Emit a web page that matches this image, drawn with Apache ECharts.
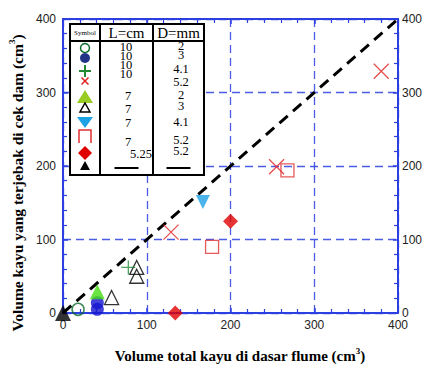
<!DOCTYPE html>
<html><head><meta charset="utf-8">
<script src="https://cdn.jsdelivr.net/npm/echarts@6/dist/echarts.min.js"></script>
<style>html,body{margin:0;padding:0;background:#fff}#c{width:427px;height:365px}</style>
</head><body><div id="c"></div>
<script>
// ---- data ----
const axisMin = 0, axisMax = 400, axisStep = 100;
const diagonal = [[0, 0], [400, 400]];
const openCircle = [[18, 5]];
const filledCircle = [[41, 5], [41, 14]];
const plusPts = [[78, 62]];
const crossPts = [[129, 110], [255, 199], [380, 329]];
const greenTri = [[41, 29]];
const openTri = [[58, 21], [88, 62], [88, 50]];
const cyanDown = [[167, 151]];
const openSquare = [[178, 90], [268, 194]];
const diamondPts = [[134, 0], [200, 125]];
const blackTri = [[0, 0]];
// legend table columns (L=cm, D=mm)
const legendL = ['10', '10', '10', '10', '7', '7', '7', '7', '5.25'];
const legendD = ['2', '3', '4.1', '5.2', '2', '3', '4.1', '5.2', '5.2'];
const xTitle = 'Volume total kayu di dasar flume (cm';
const yTitle = 'Volume kayu yang terjebak di cek dam (cm';

// ---- chart ----
const chart = echarts.init(document.getElementById('c'), null, {renderer: 'svg'});
const blue = '#2c3fe0';
const serif = '"Liberation Serif","Times New Roman",serif';
function axisCommon(showLabel, split) {
  return {
    min: axisMin, max: axisMax, interval: axisStep,
    axisLine: {show: true, onZero: false, lineStyle: {color: blue, width: 2}},
    axisTick: {show: true, inside: true, length: 5, lineStyle: {color: blue, width: 1.5}},
    minorTick: {show: true, splitNumber: 5, length: 4, lineStyle: {color: blue, width: 1.2}},
    axisLabel: {show: showLabel, color: '#222', fontSize: 12, fontFamily: '"Liberation Sans",Arial,sans-serif'},
    splitLine: {show: split, lineStyle: {color: blue, width: 1.3, type: [8, 5], opacity: 0.85}},
    minorSplitLine: {show: false}
  };
}
const xBottom = axisCommon(true, true);
xBottom.position = 'bottom';
xBottom.axisLabel.margin = 6;
const xTop = Object.assign(axisCommon(false, false), {position: 'top'});
const yLeft = axisCommon(true, true);
yLeft.position = 'left';
yLeft.axisLabel.margin = 7;
const yRight = Object.assign(axisCommon(true, false), {position: 'right'});
yRight.axisLabel.margin = 4;

const plusPath = 'path://M5,0L5,10M0,5L10,5';
const crossPath = 'path://M0,0L10,10M10,0L0,10';
function sc(data, symbol, size, style, extra) {
  return Object.assign({type: 'scatter', data: data, symbol: symbol, symbolSize: size,
    itemStyle: style, clip: false, z: 5, xAxisIndex: 0, yAxisIndex: 0}, extra || {});
}
const series = [
  {type: 'line', data: diagonal, showSymbol: false, symbol: 'none', z: 3,
   lineStyle: {color: '#000', width: 3, type: [11, 7]}},
  sc(openCircle, 'circle', 12, {color: 'rgba(0,0,0,0)', borderColor: '#0b6b2a', borderWidth: 1.5}),
  sc(filledCircle, 'circle', 13, {color: '#1414d0'}),
  sc(openTri, 'triangle', 14, {color: 'rgba(0,0,0,0)', borderColor: '#000', borderWidth: 1.3}),
  sc(greenTri, 'triangle', 15, {color: '#44dd11'}),
  sc(plusPts, plusPath, 14, {color: 'none', borderColor: '#228833', borderWidth: 1.3}),
  sc(crossPts, crossPath, 15, {color: 'none', borderColor: '#e02020', borderWidth: 1.3}),
  sc(cyanDown, 'triangle', 14, {color: '#1ea2e6'}, {symbolRotate: 180}),
  sc(openSquare, 'rect', 13, {color: 'rgba(0,0,0,0)', borderColor: '#e03030', borderWidth: 1.3}),
  sc(diamondPts, 'diamond', 15, {color: '#e00000'}),
  sc(blackTri, 'triangle', 16, {color: '#000'})
];

// ---- titles + legend table (graphic) ----
const g = [];
const titleRich = function (size) {
  return {
    n: {fontSize: size, fontWeight: 'bold', fontFamily: serif, fill: '#000'},
    sup: {fontSize: 9, fontWeight: 'bold', fontFamily: serif, fill: '#000', padding: [0, 0, 10, 0]}
  };
};
g.push({type: 'text', x: 240, y: 356, z: 50, style: {text: '{n|' + xTitle + '}{sup|3}{n|)}', rich: titleRich(15), align: 'center', verticalAlign: 'middle'}});
g.push({type: 'text', x: 17, y: 183, rotation: Math.PI / 2, z: 50, style: {text: '{n|' + yTitle + '}{sup|3}{n|)}', rich: titleRich(15.5), align: 'center', verticalAlign: 'middle'}});

const tX = 70, tY = 24, tW = 134, tH = 151, hdrY = 41, c1 = 100, c2 = 153;
const posL = [[126, 47], [126, 56], [126, 65], [126, 74], [128, 96], [128, 109], [128, 123], [128, 142], [141, 154]];
const posD = [[181, 46], [181, 55], [181, 69], [181, 82], [181, 95], [181, 106], [181, 122], [181, 140], [181, 151]];
const rowS = [48, 58, 71, 81, 97, 108, 122, 136, 153, 166];
g.push({type: 'rect', shape: {x: tX, y: tY, width: tW, height: tH}, style: {fill: '#fff', stroke: '#000', lineWidth: 2}, z: 100});
g.push({type: 'line', shape: {x1: tX, y1: hdrY, x2: tX + tW, y2: hdrY}, style: {stroke: '#000', lineWidth: 2}, z: 101});
g.push({type: 'line', shape: {x1: c1, y1: tY, x2: c1, y2: tY + tH}, style: {stroke: '#000', lineWidth: 2}, z: 101});
g.push({type: 'line', shape: {x1: c2, y1: tY, x2: c2, y2: tY + tH}, style: {stroke: '#000', lineWidth: 2}, z: 101});
function txt(s, x, y, size) {
  return {type: 'text', x: x, y: y, z: 102, style: {text: s, font: size + 'px ' + serif, fill: '#000', align: 'center', verticalAlign: 'middle'}};
}
g.push(txt('Symbol', (tX + c1) / 2, 33, 7));
g.push(txt('L=cm', (c1 + c2) / 2, 33, 15));
g.push(txt('D=mm', (c2 + tX + tW) / 2, 33, 15));
legendL.forEach((s, i) => g.push(txt(s, posL[i][0], posL[i][1], 12.5)));
legendD.forEach((s, i) => g.push(txt(s, posD[i][0], posD[i][1], 12.5)));
const sx = 85;
g.push({type: 'circle', shape: {cx: sx, cy: rowS[0], r: 4.5}, style: {fill: 'none', stroke: '#0b6b2a', lineWidth: 1.5}, z: 102});
g.push({type: 'circle', shape: {cx: sx, cy: rowS[1], r: 5}, style: {fill: '#223388'}, z: 102});
g.push({type: 'polyline', shape: {points: [[sx, rowS[2] - 6], [sx, rowS[2] + 6]]}, style: {stroke: '#228833', lineWidth: 2}, z: 102});
g.push({type: 'polyline', shape: {points: [[sx - 6, rowS[2]], [sx + 6, rowS[2]]]}, style: {stroke: '#228833', lineWidth: 2}, z: 102});
g.push({type: 'polyline', shape: {points: [[sx - 3.5, rowS[3] - 3.5], [sx + 3.5, rowS[3] + 3.5]]}, style: {stroke: '#e02020', lineWidth: 1.5}, z: 102});
g.push({type: 'polyline', shape: {points: [[sx + 3.5, rowS[3] - 3.5], [sx - 3.5, rowS[3] + 3.5]]}, style: {stroke: '#e02020', lineWidth: 1.5}, z: 102});
g.push({type: 'polygon', shape: {points: [[sx, rowS[4] - 7], [sx + 8, rowS[4] + 6], [sx - 8, rowS[4] + 6]]}, style: {fill: '#99cc22'}, z: 102});
g.push({type: 'polygon', shape: {points: [[sx, rowS[5] - 5], [sx + 5, rowS[5] + 4], [sx - 5, rowS[5] + 4]]}, style: {fill: 'none', stroke: '#000', lineWidth: 1.5}, z: 102});
g.push({type: 'polygon', shape: {points: [[sx - 8, rowS[6] - 5], [sx + 8, rowS[6] - 5], [sx, rowS[6] + 6]]}, style: {fill: '#1ea2e6'}, z: 102});
g.push({type: 'polyline', shape: {points: [[sx - 6, rowS[7] + 7], [sx - 6, rowS[7] - 6], [sx + 6, rowS[7] - 6], [sx + 6, rowS[7] + 7]]}, style: {stroke: '#e03030', lineWidth: 1.5, fill: 'none'}, z: 102});
g.push({type: 'polygon', shape: {points: [[sx, rowS[8] - 7], [sx + 7, rowS[8]], [sx, rowS[8] + 7], [sx - 7, rowS[8]]]}, style: {fill: '#e00000'}, z: 102});
g.push({type: 'polygon', shape: {points: [[sx, rowS[9] - 5], [sx + 5, rowS[9] + 4], [sx - 5, rowS[9] + 4]]}, style: {fill: '#000'}, z: 102});
g.push({type: 'polyline', shape: {points: [[(c1 + c2) / 2 - 12, 168], [(c1 + c2) / 2 + 12, 168]]}, style: {stroke: '#000', lineWidth: 2}, z: 102});
g.push({type: 'polyline', shape: {points: [[(c2 + tX + tW) / 2 - 12, 168], [(c2 + tX + tW) / 2 + 12, 168]]}, style: {stroke: '#000', lineWidth: 2}, z: 102});

chart.setOption({
  animation: false,
  backgroundColor: '#fff',
  grid: {left: 63, right: 29, top: 19, bottom: 52, containLabel: false},
  xAxis: [xBottom, xTop],
  yAxis: [yLeft, yRight],
  series: series,
  graphic: g
});
</script></body></html>
